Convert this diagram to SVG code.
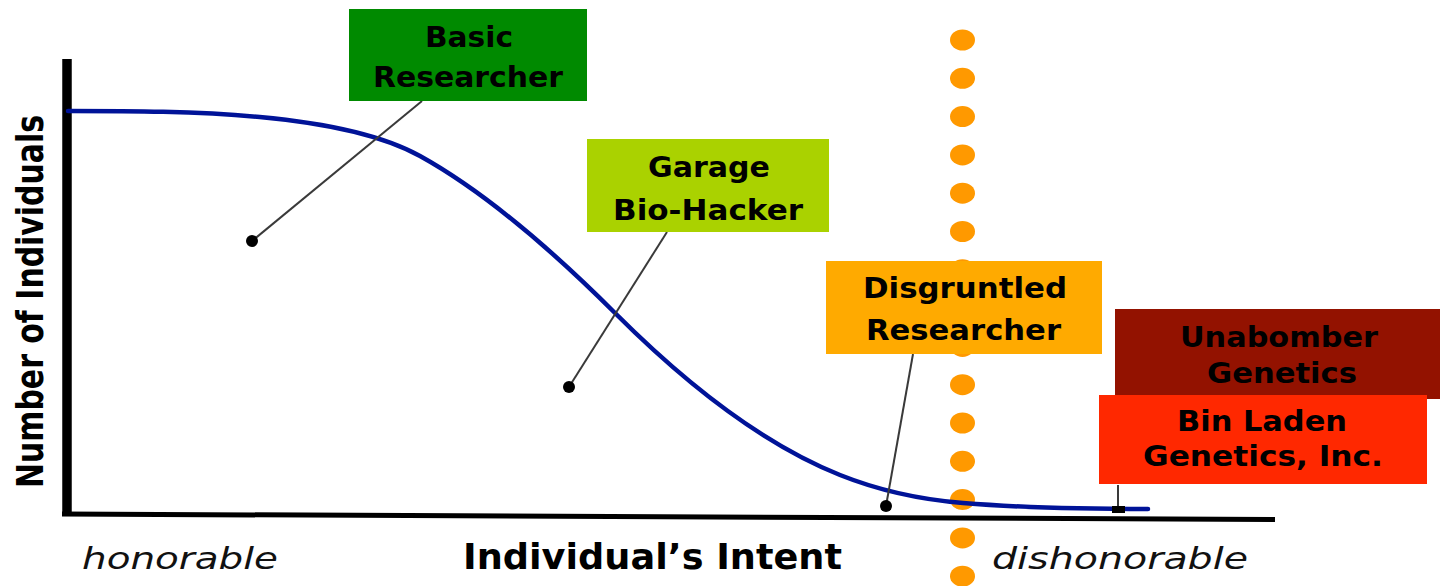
<svg xmlns="http://www.w3.org/2000/svg" xmlns:xlink="http://www.w3.org/1999/xlink" width="1440" height="586" viewBox="0 0 1440 586">
  <style>
    .box-text { font-family: "DejaVu Sans", Verdana, sans-serif; font-weight: bold; font-size: 28px; fill: #000; text-anchor: start; }
    .axis-title { font-family: "DejaVu Sans", Verdana, sans-serif; font-weight: bold; fill: #000; }
    .end-label { font-family: "DejaVu Sans", Verdana, sans-serif; font-style: italic; font-size: 31px; fill: #111; }
    .axis { stroke: #000; fill: none; }
    .leader { stroke: #3a3a3a; stroke-width: 2; fill: none; }
    .pin { fill: #000; }
    .curve { stroke: #001398; stroke-width: 4.5; fill: none; stroke-linecap: round; }
  </style>
  <defs>
    <ellipse id="odot" cx="0" cy="0" rx="12.5" ry="10.5" fill="#FF9900"/>
  </defs>

  <rect width="1440" height="586" fill="#fff"/>

  <!-- threshold marker: vertical dotted line -->
  <g id="threshold">
    <use xlink:href="#odot" x="962.5" y="40"/>
    <use xlink:href="#odot" x="962.5" y="78.3"/>
    <use xlink:href="#odot" x="962.5" y="116.6"/>
    <use xlink:href="#odot" x="962.5" y="154.9"/>
    <use xlink:href="#odot" x="962.5" y="193.2"/>
    <use xlink:href="#odot" x="962.5" y="231.5"/>
    <use xlink:href="#odot" x="962.5" y="269.8"/>
    <use xlink:href="#odot" x="962.5" y="308.1"/>
    <use xlink:href="#odot" x="962.5" y="346.4"/>
    <use xlink:href="#odot" x="962.5" y="384.7"/>
    <use xlink:href="#odot" x="962.5" y="423"/>
    <use xlink:href="#odot" x="962.5" y="461.3"/>
    <use xlink:href="#odot" x="962.5" y="499.6"/>
    <use xlink:href="#odot" x="962.5" y="537.9"/>
    <use xlink:href="#odot" x="962.5" y="576.2"/>
  </g>

  <!-- axes -->
  <g id="axes">
    <line class="axis" x1="67" y1="59" x2="67" y2="516" stroke-width="9.5"/>
    <line class="axis" x1="62" y1="514" x2="1275" y2="519.5" stroke-width="5"/>
    <text class="axis-title" font-size="38" text-anchor="middle" textLength="373" lengthAdjust="spacingAndGlyphs" transform="translate(43,301.5) rotate(-90)">Number of Individuals</text>
    <text class="axis-title" font-size="35" x="463" y="569" textLength="379" lengthAdjust="spacingAndGlyphs">Individual’s Intent</text>
    <text class="end-label" x="82" y="569" textLength="196" lengthAdjust="spacingAndGlyphs">honorable</text>
    <text class="end-label" x="992" y="569" textLength="256" lengthAdjust="spacingAndGlyphs">dishonorable</text>
  </g>

  <!-- distribution curve -->
  <path class="curve" d="M68,111 C190,111 340,112 420,156 C485,192 550,248 615,313 C690,388 765,445 840,475 C881,491.4 922,499.7 963,503 C1025,508 1100,509 1148,509"/>

  <!-- leader lines from labels to positions on the scale -->
  <g id="connectors">
    <line class="leader" x1="422" y1="101" x2="252" y2="241"/>
    <circle class="pin" cx="252" cy="241" r="6"/>
    <line class="leader" x1="667" y1="232" x2="569" y2="387"/>
    <circle class="pin" cx="569" cy="387" r="6"/>
    <line class="leader" x1="913" y1="354" x2="886" y2="506"/>
    <circle class="pin" cx="886" cy="506" r="6"/>
    <line class="leader" x1="1118" y1="485" x2="1118" y2="510"/>
    <rect class="pin" x="1112" y="506" width="13" height="7"/>
  </g>

  <g id="basic-researcher">
    <rect x="349" y="9" width="238" height="92" fill="#008A00"/>
    <text class="box-text" x="425" y="47" textLength="88" lengthAdjust="spacingAndGlyphs">Basic</text>
    <text class="box-text" x="373" y="87" textLength="190" lengthAdjust="spacingAndGlyphs">Researcher</text>
  </g>

  <g id="garage-bio-hacker">
    <rect x="587" y="139" width="242" height="93" fill="#AAD200"/>
    <text class="box-text" x="648" y="177" textLength="122" lengthAdjust="spacingAndGlyphs">Garage</text>
    <text class="box-text" x="613" y="220" textLength="190" lengthAdjust="spacingAndGlyphs">Bio-Hacker</text>
  </g>

  <g id="disgruntled-researcher">
    <rect x="826" y="261" width="276" height="93" fill="#FFAA00"/>
    <text class="box-text" x="863" y="298" textLength="204" lengthAdjust="spacingAndGlyphs">Disgruntled</text>
    <text class="box-text" x="866" y="340" textLength="195" lengthAdjust="spacingAndGlyphs">Researcher</text>
  </g>

  <g id="unabomber-genetics">
    <rect x="1115" y="309" width="325" height="90" fill="#931200"/>
    <text class="box-text" x="1180" y="347" textLength="198" lengthAdjust="spacingAndGlyphs">Unabomber</text>
    <text class="box-text" x="1207" y="383" textLength="150" lengthAdjust="spacingAndGlyphs">Genetics</text>
  </g>

  <g id="bin-laden-genetics">
    <rect x="1099" y="395" width="328" height="89" fill="#FF2800"/>
    <text class="box-text" x="1177" y="431" textLength="170" lengthAdjust="spacingAndGlyphs">Bin Laden</text>
    <text class="box-text" x="1143" y="466" textLength="240" lengthAdjust="spacingAndGlyphs">Genetics, Inc.</text>
  </g>
</svg>
